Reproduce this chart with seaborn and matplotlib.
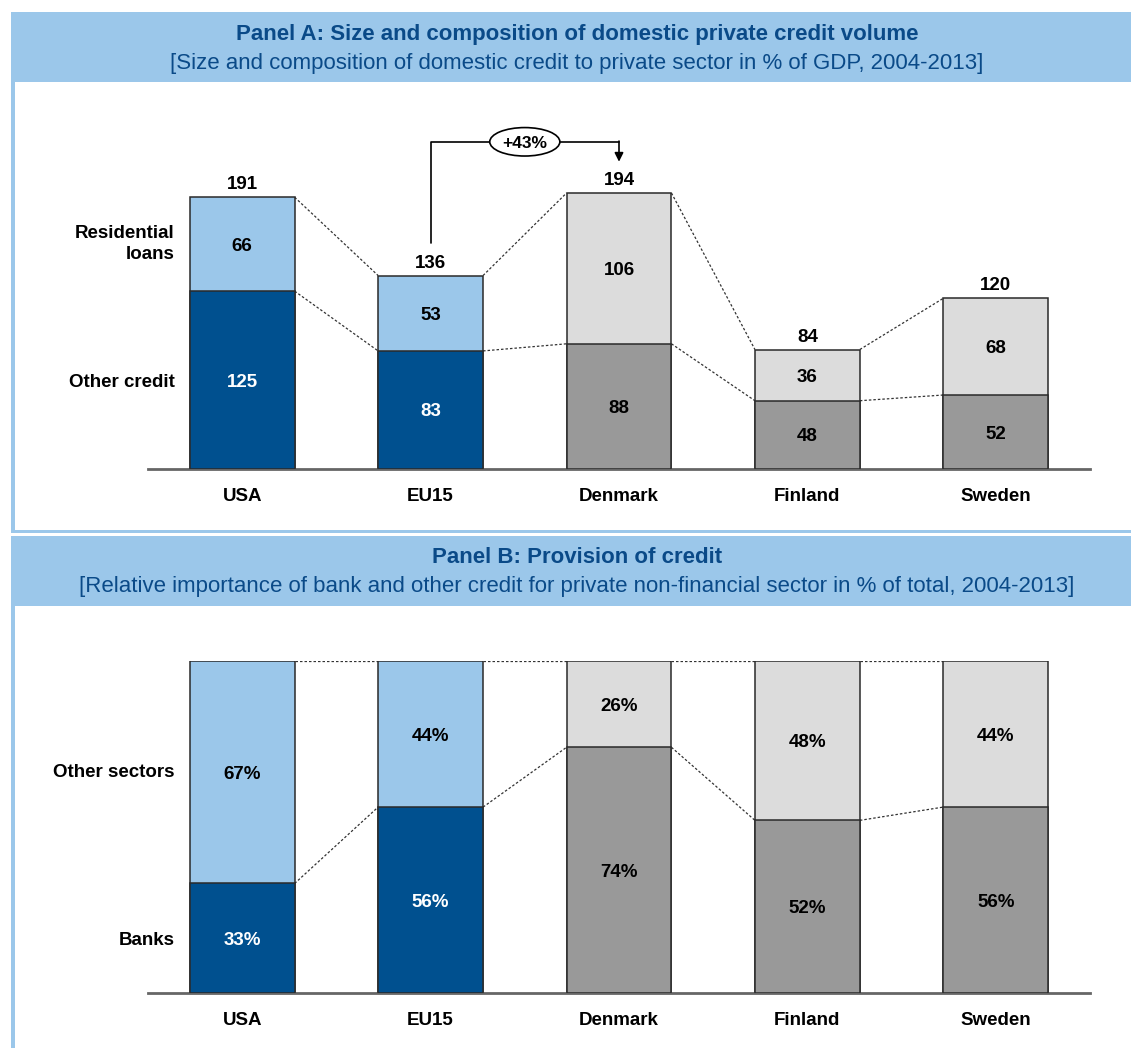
import matplotlib
matplotlib.use("Agg")
import matplotlib.pyplot as plt
import numpy as np
import pandas as pd
import seaborn as sns
from matplotlib.patches import Rectangle, Ellipse

# ---------------- data ----------------
countries = ["USA", "EU15", "Denmark", "Finland", "Sweden"]
other_credit = [125, 83, 88, 48, 52]
residential_loans = [66, 53, 106, 36, 68]
banks_share = [33, 56, 74, 52, 56]
other_sectors_share = [67, 44, 26, 48, 44]

title_a = "Panel A: Size and composition of domestic private credit volume"
subtitle_a = "[Size and composition of domestic credit to private sector in % of GDP, 2004-2013]"
title_b = "Panel B: Provision of credit"
subtitle_b = ("[Relative importance of bank and other credit for private "
              "non-financial sector in % of total, 2004-2013]")
row_labels_a = ["Residential\nloans", "Other credit"]
row_labels_b = ["Other sectors", "Banks"]

# ---------------- style ----------------
DARK_BLUE = "#00508F"
LIGHT_BLUE = "#9BC7EA"
DARK_GREY = "#999999"
LIGHT_GREY = "#DCDCDC"
BAND = "#9BC7EA"
TITLE_COLOR = "#0A4A88"
EDGE = "#2A2A2A"
bottom_colors = [DARK_BLUE, DARK_BLUE, DARK_GREY, DARK_GREY, DARK_GREY]
top_colors = [LIGHT_BLUE, LIGHT_BLUE, LIGHT_GREY, LIGHT_GREY, LIGHT_GREY]
bottom_text = ["white", "white", "black", "black", "black"]
BW = 0.557
FS = 13.5

sns.set_theme(style="white")
plt.rcParams["font.family"] = ["Liberation Sans", "DejaVu Sans"]

W, H = 1131, 1048
fig = plt.figure(figsize=(W / 100, H / 100), dpi=100)
fig.patch.set_facecolor("white")


def fx(px):
    return px / W


def fy(py):
    return 1 - py / H


def frect(x0, y0, x1, y1, color):
    fig.add_artist(Rectangle((fx(x0), fy(y1)), fx(x1) - fx(x0), fy(y0) - fy(y1),
                             transform=fig.transFigure, facecolor=color,
                             edgecolor="none", zorder=0))


# frames / header bands
frect(11, 12, W, 82, BAND)
frect(11, 82, 15, 533, BAND)
frect(11, 530, W, 533, BAND)
frect(11, 536, W, 606, BAND)
frect(11, 606, 15, H, BAND)

fig.text(fx(577), fy(40), title_a, ha="center", va="baseline", fontsize=16,
         fontweight="bold", color=TITLE_COLOR)
fig.text(fx(577), fy(69), subtitle_a, ha="center", va="baseline", fontsize=16,
         color=TITLE_COLOR)
fig.text(fx(577), fy(563), title_b, ha="center", va="baseline", fontsize=16,
         fontweight="bold", color=TITLE_COLOR)
fig.text(fx(577), fy(592), subtitle_b, ha="center", va="baseline", fontsize=16,
         color=TITLE_COLOR)


def stacked_panel(ax, bottom_vals, top_vals, ymax, fmt, row_labels, totals=False):
    df = pd.DataFrame({"country": countries, "bottom": bottom_vals, "top": top_vals})
    df["total"] = df["bottom"] + df["top"]
    sns.barplot(data=df, x="country", y="total", hue="country", palette=top_colors,
                legend=False, width=BW, saturation=1, edgecolor=EDGE, linewidth=1.1,
                ax=ax, zorder=2)
    sns.barplot(data=df, x="country", y="bottom", hue="country", palette=bottom_colors,
                legend=False, width=BW, saturation=1, edgecolor=EDGE, linewidth=1.1,
                ax=ax, zorder=3)
    ax.set_xlim(-0.5, 4.5)
    ax.set_ylim(0, ymax)
    ax.set_xlabel("")
    ax.set_ylabel("")
    ax.set_yticks([])
    ax.set_xticks(range(len(countries)))
    ax.set_xticklabels(countries, fontsize=FS, fontweight="bold", color="black")
    ax.tick_params(axis="x", length=0, pad=14)
    for s in ["top", "right", "left"]:
        ax.spines[s].set_visible(False)
    ax.spines["bottom"].set_color("#666666")
    ax.spines["bottom"].set_linewidth(2)
    ax.patch.set_alpha(0)

    tot = df["total"].tolist()
    bot = df["bottom"].tolist()
    # dotted connectors
    for i in range(len(countries) - 1):
        x0, x1 = i + BW / 2, i + 1 - BW / 2
        for series in (tot, bot):
            ax.plot([x0, x1], [series[i], series[i + 1]], color="#333333",
                    lw=0.9, ls=(0, (2, 1.6)), zorder=1)
    # segment labels
    for i in range(len(countries)):
        ax.text(i, bot[i] / 2, fmt(bot[i]), ha="center", va="center_baseline",
                fontsize=FS, fontweight="bold", color=bottom_text[i], zorder=5)
        ax.text(i, bot[i] + top_vals[i] / 2, fmt(top_vals[i]), ha="center",
                va="center_baseline", fontsize=FS, fontweight="bold",
                color="black", zorder=5)
        if totals:
            ax.annotate(str(tot[i]), xy=(i, tot[i]), xytext=(0, 8),
                        textcoords="offset pixels", ha="center", va="baseline",
                        fontsize=FS, fontweight="bold", color="black")
    # row labels next to first bar
    ax.annotate(row_labels[0], xy=(-BW / 2, bot[0] + top_vals[0] / 2), xytext=(-15, 0),
                textcoords="offset pixels", ha="right", va="center",
                multialignment="right", linespacing=1.33,
                fontsize=FS, fontweight="bold", color="black")
    ax.annotate(row_labels[1], xy=(-BW / 2, bot[0] / 2), xytext=(-15, 0),
                textcoords="offset pixels", ha="right", va="center_baseline",
                fontsize=FS, fontweight="bold", color="black")
    return tot


# ---------------- Panel A ----------------
axA = fig.add_axes([fx(148), fy(469), (1090 - 148) / W, (469 - 141.8) / H])
totA = stacked_panel(axA, other_credit, residential_loans, 230, lambda v: f"{v}",
                     row_labels_a, totals=True)

# growth arrow EU15 -> Denmark
y_top = 230
axA.plot([1, 1, 2], [totA[1] + 23, y_top, y_top], color="black", lw=1.2,
         clip_on=False, zorder=4)
axA.annotate("", xy=(2, totA[2] + 22), xytext=(2, y_top + 0.5),
             arrowprops=dict(arrowstyle="-|>", color="black", lw=1.2,
                             mutation_scale=13, shrinkA=0, shrinkB=0),
             annotation_clip=False, zorder=4)
axA.add_patch(Ellipse((1.5, y_top), 0.372, 20, facecolor="white", edgecolor="black",
                      lw=1.2, clip_on=False, zorder=5))
growth = round((totA[2] / totA[1] - 1) * 100)
axA.text(1.5, y_top, f"+{growth}%", ha="center", va="center_baseline", fontsize=12.5,
         fontweight="bold", color="black", zorder=6, clip_on=False)

# ---------------- Panel B ----------------
axB = fig.add_axes([fx(148), fy(993), (1090 - 148) / W, 332 / H])
stacked_panel(axB, banks_share, other_sectors_share, 100, lambda v: f"{v}%",
              row_labels_b, totals=False)

fig.savefig("out.png", dpi=100, facecolor="white")
